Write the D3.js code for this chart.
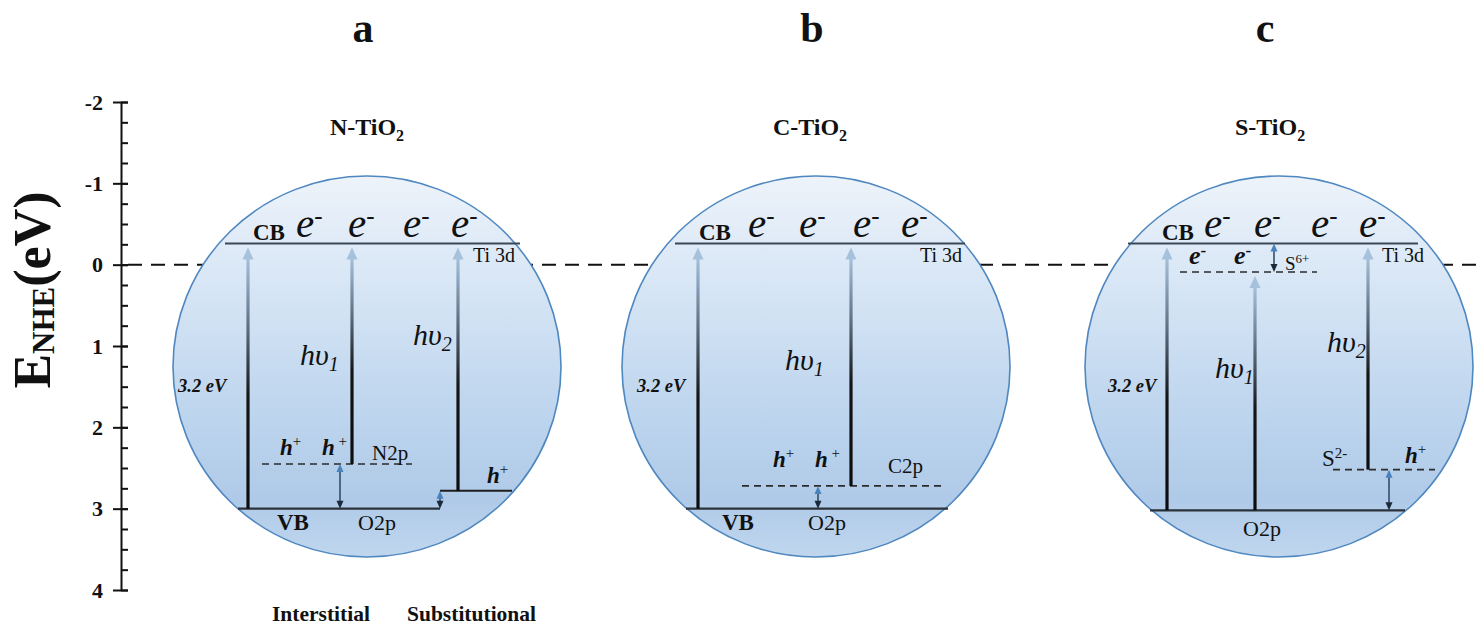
<!DOCTYPE html>
<html><head><meta charset="utf-8">
<script src="https://cdn.jsdelivr.net/npm/d3@7"></script>
<style>
html,body{margin:0;padding:0;background:#fff;}
svg{display:block;}
text{font-family:"Liberation Serif","Times New Roman",serif;fill:#111;}
</style>
</head><body>
<svg id="chart" width="1481" height="628"></svg>
<script>
// ---- data (energies in eV vs NHE) ----
const energyTicks = [-2, -1, 0, 1, 2, 3, 4];
const panelLetters = ["a", "b", "c"];
const materialNames = ["N-TiO", "C-TiO", "S-TiO"];
const cbEnergy = [-0.26, -0.26, -0.26];
const vbEnergy = [3.0, 3.0, 3.02];
const gapText = "3.2 eV";
// dopant states: interstitial N2p, substitutional N, C2p, S6+, S2-
const levelNames = ["N2p", "Nsub", "C2p", "S6+", "S2-"];
const levelEnergy = [2.45, 2.78, 2.72, 0.09, 2.52];
const bottomLabels = ["Interstitial", "Substitutional"];
// photo-excitations (from -> to) and level gaps for each panel
const excitations = [
  [["VB", "CB"], ["N2p", "CB"], ["Nsub", "CB"]],
  [["VB", "CB"], ["C2p", "CB"]],
  [["VB", "CB"], ["VB", "S6+"], ["S2-", "CB"]]
];
const gaps = [
  [["N2p", "VB"], ["Nsub", "VB"]],
  [["C2p", "VB"]],
  [["CB", "S6+"], ["S2-", "VB"]]
];

// ---- layout ----
const svg = d3.select("#chart");
const W = 1481, H = 628;
const y = d3.scaleLinear().domain([-2, 4]).range([102, 590]);
const axisX = 121;
const cx = [367, 816, 1279];
const rx = 194, ry = 190.5, cy = 366.5;
const levelPanel = { "N2p": 0, "Nsub": 0, "C2p": 1, "S6+": 2, "S2-": 2 };
const levelSpan = { "N2p": [-105, 45], "Nsub": [73, 145], "C2p": [-74, 126], "S6+": [-99, 38], "S2-": [54, 156] };
const cbSpan = [[-142, 153], [-141, 149], [-151, 139]];
const vbSpan = [[-129, 73], [-130, 132], [-129, 126]];
const excX = [[-119, -15, 91], [-118, 35], [-112, -24, 89]];
const gapX = [[-27, 73], [2], [-5, 110]];

function energyOf(p, name) {
  if (name === "CB") return cbEnergy[p];
  if (name === "VB") return vbEnergy[p];
  return levelEnergy[levelNames.indexOf(name)];
}

svg.append("rect").attr("width", W).attr("height", H).attr("fill", "#fff");

const defs = svg.append("defs");
const cg = defs.append("linearGradient").attr("id", "sphere").attr("x1", 0).attr("y1", 0).attr("x2", 0).attr("y2", 1);
[[0, "#edf3fa"], [0.3, "#d6e5f5"], [0.6, "#bfd6ee"], [0.85, "#afcae8"], [1, "#c0d6ee"]]
  .forEach(([o, c]) => cg.append("stop").attr("offset", o).attr("stop-color", c));
const ag = defs.append("linearGradient").attr("id", "beam").attr("x1", 0).attr("y1", 1).attr("x2", 0).attr("y2", 0);
[[0, "#0c0c0c"], [0.45, "#151515"], [0.72, "#5d6f82"], [1, "#a6c1dc"]]
  .forEach(([o, c]) => ag.append("stop").attr("offset", o).attr("stop-color", c));

// zero-potential reference line
svg.append("line")
  .attr("x1", 128).attr("x2", W).attr("y1", y(0)).attr("y2", y(0))
  .attr("stroke", "#111").attr("stroke-width", 2).attr("stroke-dasharray", "14,9");

// text helpers
function label(g, x, yb, parts) {
  const t = g.append("text").attr("x", x).attr("y", yb);
  parts.forEach(p => {
    const s = t.append("tspan").text(p.t)
      .attr("font-size", p.size)
      .attr("font-weight", p.bold ? "bold" : "normal")
      .attr("font-style", p.italic ? "italic" : "normal");
    if (p.dy) s.attr("dy", p.dy);
  });
  return t;
}
const electron = (g, x, yb) => label(g, x, yb, [{ t: "e", size: 41, italic: true }, { t: "-", size: 25, dy: -13 }]);
const electronSmall = (g, x, yb) => label(g, x, yb, [{ t: "e", size: 26, italic: true, bold: true }, { t: "-", size: 17, bold: true, dy: -8 }]);
const hole = (g, x, yb, sp) => label(g, x, yb, [{ t: "h", size: 23, italic: true, bold: true }, { t: (sp ? " " : "") + "+", size: 15, dy: -9 }]);
const photon = (g, x, yb, n) => label(g, x, yb, [{ t: "h\u03c5", size: 30, italic: true }, { t: n, size: 20, italic: true, dy: 6 }]);

panelLetters.forEach((letter, p) => {
  const c = cx[p];
  const g = svg.append("g");

  g.append("ellipse").attr("cx", c).attr("cy", cy).attr("rx", rx).attr("ry", ry)
    .attr("fill", "url(#sphere)").attr("stroke", "#4f88c0").attr("stroke-width", 1.6);

  // band edges
  g.append("line").attr("x1", c + cbSpan[p][0]).attr("x2", c + cbSpan[p][1])
    .attr("y1", y(cbEnergy[p])).attr("y2", y(cbEnergy[p]))
    .attr("stroke", "#3a4856").attr("stroke-width", 2.2);
  g.append("line").attr("x1", c + vbSpan[p][0]).attr("x2", c + vbSpan[p][1])
    .attr("y1", y(vbEnergy[p])).attr("y2", y(vbEnergy[p]))
    .attr("stroke", "#2a323a").attr("stroke-width", 2.2);

  // dopant levels
  levelNames.forEach((name, i) => {
    if (levelPanel[name] !== p) return;
    const yy = y(levelEnergy[i]);
    g.append("line").attr("x1", c + levelSpan[name][0]).attr("x2", c + levelSpan[name][1])
      .attr("y1", yy).attr("y2", yy)
      .attr("stroke", name === "Nsub" ? "#1e1e1e" : "#2b2b2b")
      .attr("stroke-width", name === "Nsub" ? 2 : 1.6)
      .attr("stroke-dasharray", name === "Nsub" ? null : "7,5");
  });

  // excitation arrows
  excitations[p].forEach(([from, to], k) => {
    const x = c + excX[p][k];
    const y0 = y(energyOf(p, from)), tip = y(energyOf(p, to)) + 4;
    g.append("rect").attr("x", x - 1.6).attr("width", 3.2)
      .attr("y", tip + 10).attr("height", y0 - tip - 10).attr("fill", "url(#beam)");
    g.append("path").attr("d", `M${x},${tip}L${x + 5.5},${tip + 12}L${x - 5.5},${tip + 12}Z`)
      .attr("fill", "#a6c1dc");
  });

  // gap arrows between levels
  gaps[p].forEach(([a, b], k) => {
    const x = c + gapX[p][k];
    const ya = y(energyOf(p, a)), yb = y(energyOf(p, b));
    const top = Math.min(ya, yb), bot = Math.max(ya, yb);
    g.append("line").attr("x1", x).attr("x2", x).attr("y1", top + 6).attr("y2", bot - 6)
      .attr("stroke", "#2a4660").attr("stroke-width", 1.5);
    g.append("path").attr("d", `M${x},${top}L${x + 3.5},${top + 8}L${x - 3.5},${top + 8}Z`).attr("fill", "#4a83bb");
    g.append("path").attr("d", `M${x},${bot}L${x + 3.5},${bot - 8}L${x - 3.5},${bot - 8}Z`).attr("fill", "#1b2a3a");
  });

  // titles
  svg.append("text").attr("x", [363, 812, 1265][p]).attr("y", 42).attr("text-anchor", "middle")
    .attr("font-size", 42).attr("font-weight", "bold").text(letter);
  label(svg, [367, 810, 1270][p], 135, [{ t: materialNames[p], size: 24, bold: true }, { t: "2", size: 16, bold: true, dy: 6 }])
    .attr("text-anchor", "middle");

  // common band labels
  label(g, c - (p === 0 ? 114 : 117), 240, [{ t: "CB", size: 23, bold: true }]);
  label(g, c + [106, 104, 103][p], 262, [{ t: "Ti 3d", size: 20 }]);
  label(g, c + [-189, -179, -171][p], 392, [{ t: gapText, size: 18.5, bold: true, italic: true }]);
  [[-71, -19, 36, 84], [-68, -17, 37, 85], [-75, -25, 32, 80]][p].forEach(o => electron(g, c + o, 237));
});

// panel a labels
{
  const c = cx[0], g = svg;
  photon(g, c - 67, 365, "1");
  photon(g, c + 46, 345, "2");
  hole(g, c - 87, 455, false);
  hole(g, c - 45, 455, true);
  label(g, c + 5, 460, [{ t: "N2p", size: 21 }]);
  hole(g, c + 120, 483, false);
  label(g, c - 90, 530, [{ t: "VB", size: 23, bold: true }]);
  label(g, c - 9, 530, [{ t: "O2p", size: 22 }]);
  label(g, 272, 621, [{ t: bottomLabels[0], size: 21.5, bold: true }]);
  label(g, 407, 621, [{ t: bottomLabels[1], size: 21.5, bold: true }]);
}
// panel b labels
{
  const c = cx[1], g = svg;
  photon(g, c - 31, 370, "1");
  hole(g, c - 43, 467, false);
  hole(g, c - 1, 467, true);
  label(g, c + 72, 473, [{ t: "C2p", size: 21 }]);
  label(g, c - 94, 530, [{ t: "VB", size: 23, bold: true }]);
  label(g, c - 8, 530, [{ t: "O2p", size: 22 }]);
}
// panel c labels
{
  const c = cx[2], g = svg;
  electronSmall(g, c - 90, 264);
  electronSmall(g, c - 45, 264);
  label(g, c + 6, 270, [{ t: "S", size: 19 }, { t: "6+", size: 13, dy: -7 }]);
  photon(g, c - 64, 378, "1");
  photon(g, c + 48, 352, "2");
  label(g, c + 43, 466, [{ t: "S", size: 23 }, { t: "2-", size: 15, dy: -8 }]);
  hole(g, c + 126, 463, false);
  label(g, c - 36, 536, [{ t: "O2p", size: 22 }]);
}

// energy axis
const ax = svg.append("g").attr("transform", `translate(${axisX},0)`);
ax.append("g").call(d3.axisRight(y).tickValues(d3.range(-2, 4.001, 0.25)).tickSize(7).tickFormat(""))
  .call(s => s.select(".domain").remove());
ax.append("g").call(d3.axisLeft(y).tickValues(energyTicks).tickSizeInner(8).tickSizeOuter(0).tickPadding(10).tickFormat(d => String(d)))
  .call(s => s.selectAll("text").attr("font-size", 22).attr("font-weight", "bold").attr("fill", "#111")
    .attr("font-family", "'Liberation Serif','Times New Roman',serif"));
ax.append("g").call(d3.axisRight(y).tickValues(energyTicks).tickSize(7).tickFormat(""))
  .call(s => s.select(".domain").remove());
ax.selectAll("line,path").attr("stroke", "#111").attr("stroke-width", 2);

// axis title
label(svg, 0, 0, [{ t: "E", size: 52, bold: true }, { t: "NHE", size: 31, bold: true, dy: 4 }, { t: "(eV)", size: 52, bold: true, dy: -4 }])
  .attr("text-anchor", "middle").attr("transform", "translate(50,290) rotate(-90)");
</script>
</body></html>
